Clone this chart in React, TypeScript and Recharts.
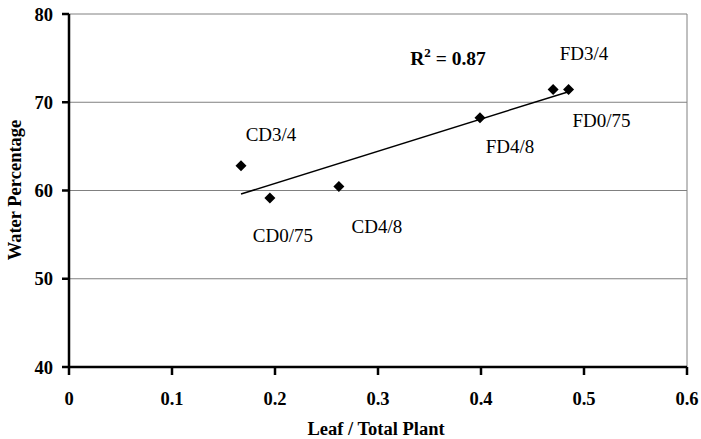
import {
  CartesianGrid,
  ReferenceLine,
  Scatter,
  ScatterChart,
  XAxis,
  YAxis,
} from "recharts";

// sample labels and readings
const sampleNames = ["CD3/4", "CD0/75", "CD4/8", "FD4/8", "FD3/4", "FD0/75"];
const leafRatio = [0.167, 0.195, 0.262, 0.399, 0.47, 0.485];
const waterPct = [62.8, 59.15, 60.45, 68.25, 71.45, 71.45];

// linear trend line at its two ends
const trendX = [0.167, 0.485];
const trendY = [59.6, 71.2];

const xTicks = [0, 0.1, 0.2, 0.3, 0.4, 0.5, 0.6];
const yTicks = [40, 50, 60, 70, 80];

const points = sampleNames.map((name, i) => ({ name, x: leafRatio[i], y: waterPct[i] }));
const trend = trendX.map((x, i) => ({ x, y: trendY[i] }));

const FONT = '"Liberation Serif", "Times New Roman", serif';

// label placement relative to each marker (px)
const labelOffset: Record<string, [number, number]> = {
  "CD3/4": [30, -31],
  "CD0/75": [13, 37],
  "CD4/8": [38, 40],
  "FD4/8": [30, 29],
  "FD3/4": [31, -36],
  "FD0/75": [33, 31],
};

function Diamond(props: any) {
  const { cx, cy, payload } = props;
  const r = 5.5;
  const off = labelOffset[payload?.name] ?? [0, 0];
  return (
    <g>
      <polygon
        points={`${cx},${cy - r} ${cx + r},${cy} ${cx},${cy + r} ${cx - r},${cy}`}
        fill="#000"
      />
      <text
        x={cx + off[0]}
        y={cy + off[1] + 6.5}
        textAnchor="middle"
        fontFamily={FONT}
        fontSize={19}
        fill="#000"
      >
        {payload?.name}
      </text>
    </g>
  );
}

const tickStyle = { fontFamily: FONT, fontSize: 18.5, fontWeight: "bold", fill: "#000" };

export default function App() {
  return (
    <div style={{ position: "absolute", left: 0, top: 0, width: 701, height: 439, background: "#fff" }}>
      <ScatterChart width={701} height={439} margin={{ top: 14, right: 14, bottom: 0, left: 0 }}>
        <CartesianGrid horizontal vertical={false} stroke="#808080" strokeWidth={1} />
        <ReferenceLine x={0.6} stroke="#808080" strokeWidth={1} />
        <XAxis
          type="number"
          dataKey="x"
          domain={[0, 0.6]}
          ticks={xTicks}
          allowDataOverflow
          height={72}
          tick={tickStyle}
          tickSize={8}
          tickMargin={17}
          axisLine={{ stroke: "#000", strokeWidth: 2.5 }}
          tickLine={{ stroke: "#000", strokeWidth: 2.5 }}
          label={() => (
            <text
              x={376}
              y={435}
              textAnchor="middle"
              fontFamily={FONT}
              fontSize={18.5}
              fontWeight="bold"
              fill="#000"
            >
              Leaf / Total Plant
            </text>
          )}
        />
        <YAxis
          type="number"
          dataKey="y"
          domain={[40, 80]}
          ticks={yTicks}
          allowDataOverflow
          width={69}
          tick={tickStyle}
          tickSize={7}
          tickMargin={9}
          axisLine={{ stroke: "#000", strokeWidth: 2.5 }}
          tickLine={{ stroke: "#000", strokeWidth: 2.5 }}
          label={() => (
            <text
              x={15}
              y={190}
              transform="rotate(-90 15 190)"
              textAnchor="middle"
              dominantBaseline="central"
              fontFamily={FONT}
              fontSize={18.5}
              fontWeight="bold"
              fill="#000"
            >
              Water Percentage
            </text>
          )}
        />
        <Scatter
          data={trend}
          line={{ stroke: "#000", strokeWidth: 1.5 }}
          shape={() => <g />}
          isAnimationActive={false}
        />
        <Scatter data={points} shape={<Diamond />} isAnimationActive={false} />
        <text
          x={448}
          y={65}
          textAnchor="middle"
          fontFamily={FONT}
          fontSize={19.5}
          fontWeight="bold"
          fill="#000"
        >
          R<tspan dy={-8} fontSize={13}>2</tspan>
          <tspan dy={8}> = 0.87</tspan>
        </text>
      </ScatterChart>
    </div>
  );
}
